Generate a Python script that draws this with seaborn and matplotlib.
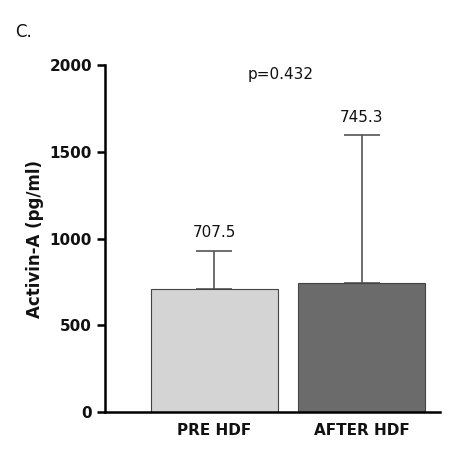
import numpy as np
import pandas as pd
import seaborn as sns
import matplotlib.pyplot as plt

groups = ['PRE HDF', 'AFTER HDF']
means = [707.5, 745.3]
upper_err = [222.5, 849.7]
bar_colors = ['#d4d4d4', '#6b6b6b']
p_text = 'p=0.432'

sns.set_theme(style='ticks')
plt.rcParams['font.family'] = ['DejaVu Sans']
plt.rcParams['text.color'] = '#111111'

df = pd.DataFrame({'group': groups, 'mean': means})

fig = plt.figure(figsize=(4.51, 4.51), dpi=100)
ax = fig.add_axes([0.233, 0.086, 0.743, 0.77])

sns.barplot(data=df, x='group', y='mean', hue='group', palette=bar_colors,
            width=0.86, edgecolor='#444444', linewidth=0.8, legend=False, ax=ax,
            zorder=2)
ax.errorbar(range(len(groups)), means, yerr=[np.zeros(len(groups)), upper_err],
            fmt='none', ecolor='#555555', elinewidth=1.2, capsize=13, capthick=1.2,
            zorder=1)

for i, (m, e) in enumerate(zip(means, upper_err)):
    ax.text(i, m + e + 60, f'{m}', ha='center', va='bottom', fontsize=11)

ax.text(0.45, 1945, p_text, ha='center', va='center', fontsize=11)
fig.text(0.033, 0.93, 'C.', fontsize=12, va='center')

ax.set_xlim(-0.74, 1.53)
ax.set_ylim(0, 2000)
ax.set_yticks([0, 500, 1000, 1500, 2000])
ax.set_xlabel('')
ax.set_ylabel('Activin-A (pg/ml)', fontsize=12, fontweight='bold', color='#111111')
for lab in ax.get_xticklabels() + ax.get_yticklabels():
    lab.set_fontweight('bold')
    lab.set_fontsize(11)
    lab.set_color('#111111')
ax.tick_params(axis='x', length=0, pad=8)
ax.tick_params(axis='y', width=1.8, length=6, color='black')
for s in ['left', 'bottom']:
    ax.spines[s].set_linewidth(1.8)
    ax.spines[s].set_color('black')
sns.despine(ax=ax)

fig.savefig('out.png', dpi=100)
